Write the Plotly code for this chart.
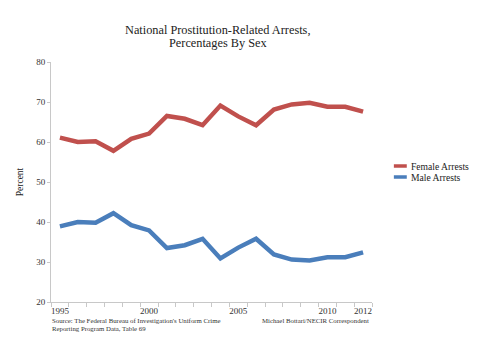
import plotly.graph_objects as go

years = list(range(1995, 2013))
female = [61.1, 60.0, 60.2, 57.8, 60.8, 62.1, 66.5, 65.8, 64.2, 69.1, 66.4, 64.2, 68.1, 69.4, 69.8, 68.8, 68.8, 67.6]
male = [38.9, 40.0, 39.8, 42.2, 39.2, 37.9, 33.5, 34.2, 35.8, 30.9, 33.6, 35.8, 31.9, 30.6, 30.4, 31.2, 31.2, 32.4]
series_names = ["Female Arrests", "Male Arrests"]
colors = ["#C0504D", "#4A7EBB"]
xtick_vals = [1995, 2000, 2005, 2010, 2012]
ytick_vals = [20, 30, 40, 50, 60, 70, 80]

FONT = "Liberation Serif"
OFF = 8  # page body margin
L, T, R, B = 49 - OFF, 62 - OFF, 372 - OFF, 302 - OFF
W, H = 480, 337
PW, PH = R - L, B - T

def px(x):
    return (x - OFF - L) / PW

def py(y):
    return (B - (y - OFF)) / PH

fig = go.Figure()
for name, vals, c in zip(series_names, [female, male], colors):
    fig.add_trace(go.Scatter(x=years, y=vals, mode="lines", name=name,
                             line=dict(color=c, width=4.5), showlegend=False))

fig.update_layout(
    width=W, height=H,
    margin=dict(l=L, r=W - R, t=T, b=H - B),
    paper_bgcolor="white", plot_bgcolor="white",
    font=dict(family=FONT, color="#333333"),
)
fig.update_xaxes(range=[1994.5, 2012.5], tickvals=xtick_vals, ticks="", showgrid=False,
                 showline=True, linecolor="#c8c8c8", linewidth=1, zeroline=False,
                 tickfont=dict(size=9, family=FONT, color="#333333"),
                 minor=dict(tick0=1994.5, dtick=1, ticks="outside", ticklen=4, tickcolor="#c8c8c8", showgrid=False))
fig.update_yaxes(range=[20, 80], tickvals=ytick_vals, ticks="outside", ticklen=3, tickcolor="#c8c8c8",
                 showgrid=False, showline=True, linecolor="#c8c8c8", linewidth=1, zeroline=False,
                 tickfont=dict(size=9, family=FONT, color="#333333"),
                 title=dict(text="Percent", font=dict(size=9.5, family=FONT, color="#222222"), standoff=10))

# title (two lines)
for txt, yy in [("National Prostitution-Related Arrests,", 30), ("Percentages By Sex", 43)]:
    fig.add_annotation(text=txt, xref="paper", yref="paper", x=px(217), y=py(yy),
                       xanchor="center", yanchor="middle", showarrow=False,
                       font=dict(size=12.3, family=FONT, color="#222222"))

# legend drawn manually
leg_y = [166, 177]
for name, c, yy in zip(series_names, colors, leg_y):
    fig.add_shape(type="line", xref="paper", yref="paper",
                  x0=px(394), x1=px(407), y0=py(yy), y1=py(yy),
                  line=dict(color=c, width=3.5))
    fig.add_annotation(text=name, xref="paper", yref="paper", x=px(409), y=py(yy),
                       xanchor="left", yanchor="middle", showarrow=False,
                       font=dict(size=9.6, family=FONT, color="#222222"))

for txt, yy in [("Source: The Federal Bureau of Investigation's Uniform Crime", 320),
                ("Reporting Program Data, Table 69", 328)]:
    fig.add_annotation(text=txt, xref="paper", yref="paper", x=px(48), y=py(yy),
                       xanchor="left", yanchor="middle", showarrow=False,
                       font=dict(size=6.8, family=FONT, color="#333333"))
fig.add_annotation(text="Michael Bottari/NECIR Correspondent",
                   xref="paper", yref="paper", x=px(371), y=py(320), xanchor="right", yanchor="middle",
                   showarrow=False, font=dict(size=6.8, family=FONT, color="#333333"))

fig.write_html("out.html")
